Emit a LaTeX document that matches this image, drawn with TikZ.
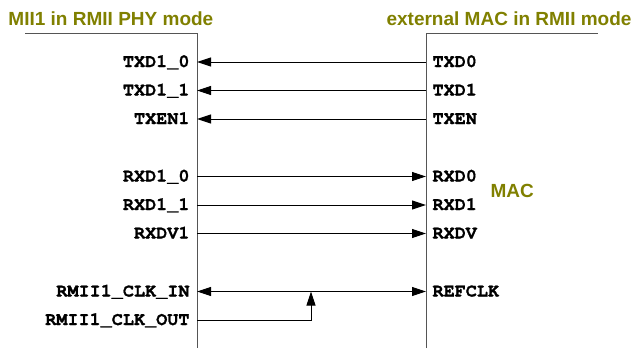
\documentclass[tikz,border=0pt]{standalone}
\usepackage{fontspec}
\setmainfont{Liberation Sans}
\setmonofont{TeX Gyre Cursor}[BoldFeatures={FakeBold=1.2}]
\usetikzlibrary{arrows.meta}
\usetikzlibrary{calc}
\usetikzlibrary{positioning}
\definecolor{titleOlive}{RGB}{128, 128, 0}
\definecolor{frameGray}{RGB}{85, 85, 85}

\begin{document}
\begin{tikzpicture}[x=1pt, y=-1pt, line width=1pt,
      >={Triangle[length=14pt, width=9pt]},
      pinname/.style={font=\fontsize{18.5}{18.5}\selectfont\ttfamily\bfseries,
                      inner sep=0pt},
      heading/.style={titleOlive, font=\fontsize{19}{19}\selectfont\bfseries,
                      inner sep=0pt}]
      \useasboundingbox (0,0) rectangle (634,348);

      % the two blocks
      \draw [frameGray] (25,33) -- (197,33) -- (197,348);
      \draw [frameGray] (426,348) -- (426,33) -- (598,33);

      \node [heading, anchor=base west] (phy) at (8,25)
            {MII1 in RMII PHY mode};
      \node [heading, anchor=base east] (ext) at (632,25)
            {external MAC in RMII mode};
      \node [heading, anchor=base west] (mac) at (490,197) {MAC};

      % pins of the PHY side
      \coordinate (txdl0) at (197,62);
      \coordinate (txdl1) at (197,90.5);
      \coordinate (txenl) at (197,119);
      \coordinate (rxdl0) at (197,176.5);
      \coordinate (rxdl1) at (197,205);
      \coordinate (rxdvl) at (197,233.5);
      \coordinate (clkin) at (197,291.5);
      \coordinate (clkout) at (197,320);

      % pins of the MAC side
      \coordinate (txdr0) at (426,62);
      \coordinate (txdr1) at (426,90.5);
      \coordinate (txenr) at (426,119);
      \coordinate (rxdr0) at (426,176.5);
      \coordinate (rxdr1) at (426,205);
      \coordinate (rxdvr) at (426,233.5);
      \coordinate (refclk) at (426,291.5);
      \coordinate (clkjoin) at (311,291.5);

      \node [pinname, anchor=base east] at ($(txdl0) + (-7,5)$) {TXD1\_0};
      \node [pinname, anchor=base east] at ($(txdl1) + (-7,5)$) {TXD1\_1};
      \node [pinname, anchor=base east] at ($(txenl) + (-7,5)$) {TXEN1};
      \node [pinname, anchor=base east] at ($(rxdl0) + (-7,5)$) {RXD1\_0};
      \node [pinname, anchor=base east] at ($(rxdl1) + (-7,5)$) {RXD1\_1};
      \node [pinname, anchor=base east] at ($(rxdvl) + (-7,5)$) {RXDV1};
      \node [pinname, anchor=base east] at ($(clkin) + (-7,5)$)
            {RMII1\_CLK\_IN};
      \node [pinname, anchor=base east] at ($(clkout) + (-7,5)$)
            {RMII1\_CLK\_OUT};

      \node [pinname, anchor=base west] at ($(txdr0) + (6,5)$) {TXD0};
      \node [pinname, anchor=base west] at ($(txdr1) + (6,5)$) {TXD1};
      \node [pinname, anchor=base west] at ($(txenr) + (6,5)$) {TXEN};
      \node [pinname, anchor=base west] at ($(rxdr0) + (6,5)$) {RXD0};
      \node [pinname, anchor=base west] at ($(rxdr1) + (6,5)$) {RXD1};
      \node [pinname, anchor=base west] at ($(rxdvr) + (6,5)$) {RXDV};
      \node [pinname, anchor=base west] at ($(refclk) + (6,5)$) {REFCLK};

      % signals
      \draw [<-] (txdl0) -- (txdr0);
      \draw [<-] (txdl1) -- (txdr1);
      \draw [<-] (txenl) -- (txenr);
      \draw [->] (rxdl0) -- (rxdr0);
      \draw [->] (rxdl1) -- (rxdr1);
      \draw [->] (rxdvl) -- (rxdvr);
      \draw [<->] (clkin) -- (refclk);
      \draw [->] (clkout) -| (clkjoin);
\end{tikzpicture}
\end{document}
